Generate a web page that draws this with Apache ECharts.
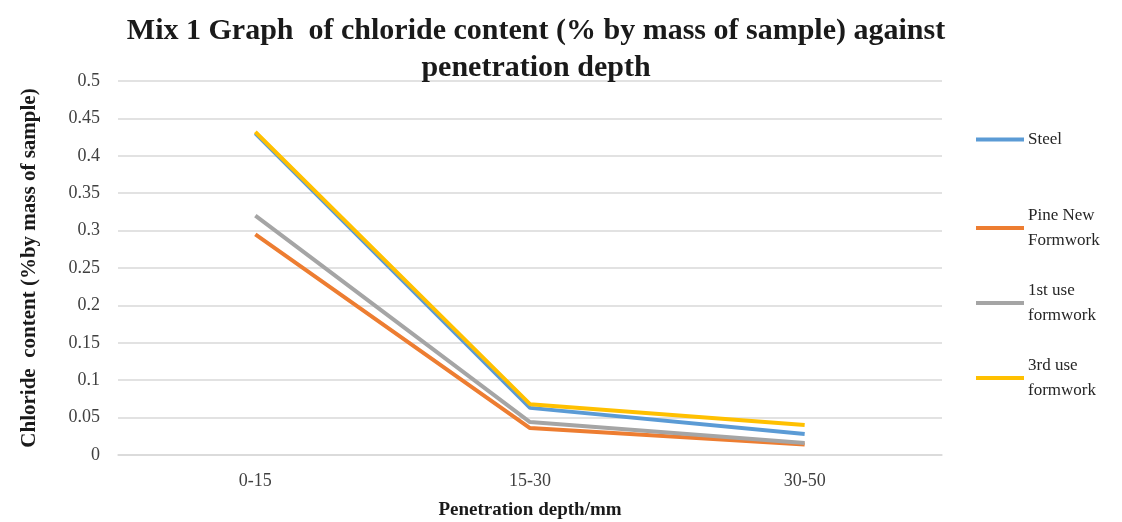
<!DOCTYPE html>
<html>
<head>
<meta charset="utf-8">
<script src="https://cdn.jsdelivr.net/npm/echarts@6/dist/echarts.min.js"></script>
<style>
  html, body { margin: 0; padding: 0; background: #fff; }
  #chart-mix1 { width: 1122px; height: 522px; }
</style>
</head>
<body>
<div id="chart-mix1"></div>
<script>
let depthCategories = ["0-15", "15-30", "30-50"];
let steelValues = [0.43, 0.063, 0.028];
let pineNewValues = [0.295, 0.036, 0.014];
let firstUseValues = [0.32, 0.044, 0.016];
let thirdUseValues = [0.432, 0.068, 0.04];
let yTicks = [0, 0.05, 0.1, 0.15, 0.2, 0.25, 0.3, 0.35, 0.4, 0.45, 0.5];

let seriesNames = ["Steel", "Pine New Formwork", "1st use formwork", "3rd use formwork"];
let seriesColors = ["#5B9BD5", "#ED7D31", "#A5A5A5", "#FFC000"];
let legendLabels = {
    "Steel": "Steel",
    "Pine New Formwork": "Pine New\nFormwork",
    "1st use formwork": "1st use\nformwork",
    "3rd use formwork": "3rd use\nformwork",
};
let legendTops = [126, 202, 277, 352];

let myChart = echarts.init(document.getElementById("chart-mix1"));
let serif = '"Liberation Serif", "DejaVu Serif", serif';

function lineSeries(name, values, color) {
    return {
        name: name,
        type: "line",
        data: values,
        symbol: "none",
        lineStyle: { width: 4, color: color },
        itemStyle: { color: color },
    };
}

// one legend per item so the icon lines up with the first text line
let legends = seriesNames.map((name, i) => ({
    data: [name],
    left: 971,
    top: legendTops[i],
    itemWidth: 48,
    itemHeight: 4,
    icon: "rect",
    itemGap: 2,
    formatter: (n) => legendLabels[n],
    textStyle: {
        fontFamily: serif,
        fontSize: 17,
        color: "#262626",
        lineHeight: 25,
        verticalAlign: "top",
        padding: [-12, 0, 0, -1],
    },
}));

let option = {
    animation: false,
    textStyle: { fontFamily: serif },
    title: {
        text: "Mix 1 Graph  of chloride content (% by mass of sample) against\npenetration depth",
        left: 531,
        textAlign: "center",
        top: 8,
        textStyle: {
            fontFamily: serif,
            fontSize: 30,
            fontWeight: "bold",
            color: "#1a1a1a",
            lineHeight: 37,
        },
    },
    legend: legends,
    grid: { left: 118, right: 180, top: 81, bottom: 67, outerBoundsMode: "none", containLabel: false },
    xAxis: {
        type: "category",
        data: depthCategories,
        boundaryGap: true,
        name: "Penetration depth/mm",
        nameLocation: "middle",
        nameGap: 46,
        nameTextStyle: { fontFamily: serif, fontSize: 19, fontWeight: "bold", color: "#1a1a1a" },
        axisLine: { show: true, lineStyle: { color: "#d9d9d9", width: 1.5 } },
        axisTick: { show: false },
        axisLabel: { fontFamily: serif, fontSize: 18, color: "#404040", margin: 17 },
    },
    yAxis: {
        type: "value",
        min: yTicks[0],
        max: yTicks[yTicks.length - 1],
        interval: 0.05,
        name: "Chloride  content (%by mass of sample)",
        nameLocation: "middle",
        nameGap: 78,
        nameTextStyle: { fontFamily: serif, fontSize: 21, fontWeight: "bold", color: "#1a1a1a" },
        axisLine: { show: false },
        axisTick: { show: false },
        axisLabel: { fontFamily: serif, fontSize: 18, color: "#404040", margin: 18 },
        splitLine: { lineStyle: { color: "#d9d9d9", width: 1.5 } },
    },
    series: [
        lineSeries(seriesNames[0], steelValues, seriesColors[0]),
        lineSeries(seriesNames[1], pineNewValues, seriesColors[1]),
        lineSeries(seriesNames[2], firstUseValues, seriesColors[2]),
        lineSeries(seriesNames[3], thirdUseValues, seriesColors[3]),
    ],
};
option && myChart.setOption(option);
</script>
</body>
</html>
